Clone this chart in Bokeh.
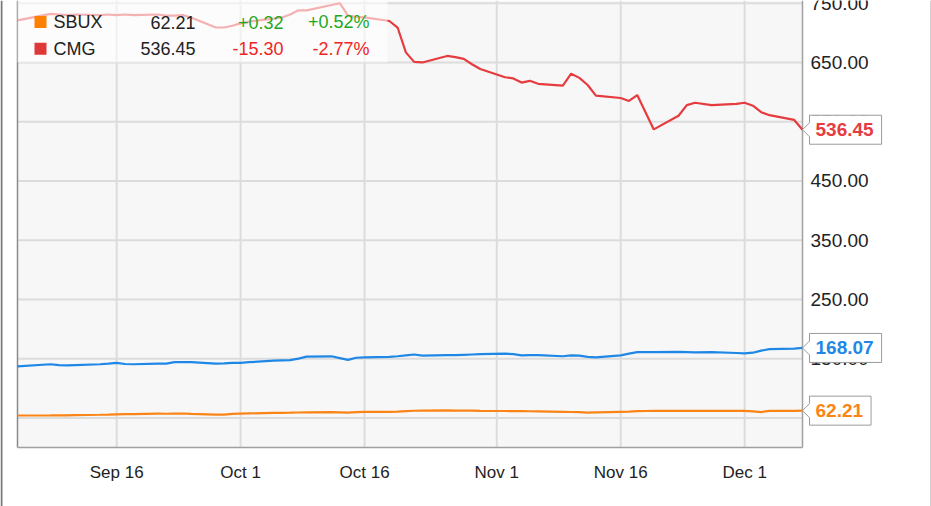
import pandas as pd
from bokeh.plotting import figure
from bokeh.models import Range1d, ColumnDataSource
from bokeh.core.properties import value
from bokeh.embed import file_html
from bokeh.resources import INLINE

# ---------------- data ----------------
dates = [
    "2015-09-04", "2015-09-08", "2015-09-09", "2015-09-10", "2015-09-11", "2015-09-14",
    "2015-09-15", "2015-09-16", "2015-09-17", "2015-09-18", "2015-09-21", "2015-09-22",
    "2015-09-23", "2015-09-24", "2015-09-25", "2015-09-28", "2015-09-29", "2015-09-30",
    "2015-10-01", "2015-10-02", "2015-10-05", "2015-10-06", "2015-10-07", "2015-10-08",
    "2015-10-09", "2015-10-12", "2015-10-13", "2015-10-14", "2015-10-15", "2015-10-16",
    "2015-10-19", "2015-10-20", "2015-10-21", "2015-10-22", "2015-10-23", "2015-10-26",
    "2015-10-27", "2015-10-28", "2015-10-29", "2015-10-30", "2015-11-02", "2015-11-03",
    "2015-11-04", "2015-11-05", "2015-11-06", "2015-11-09", "2015-11-10", "2015-11-11",
    "2015-11-12", "2015-11-13", "2015-11-16", "2015-11-17", "2015-11-18", "2015-11-19",
    "2015-11-20", "2015-11-23", "2015-11-24", "2015-11-25", "2015-11-27", "2015-11-30",
    "2015-12-01", "2015-12-02", "2015-12-03", "2015-12-04", "2015-12-07", "2015-12-08",
]

cmg = [
    721, 732, 731, 730, 731, 730, 731, 730, 731, 730, 731, 729, 729, 730, 726, 709, 709, 712,
    716, 719, 724, 726, 731, 738, 738, 747, 750, 729, 727, 726, 720, 709, 667, 651, 650, 661,
    659, 656, 647, 639, 625, 623, 616, 619, 614, 611, 631, 624, 612, 594, 590, 585, 595, 566,
    537, 560, 578, 582, 578, 580, 582, 577, 566, 561, 553, 536.45,
]

blue_series = [
    137, 140.5, 139, 138.5, 139, 140.5, 141.5, 143, 141, 140.5, 141.5, 141.5, 144, 144, 144,
    141.5, 142, 143, 143, 144, 146.5, 147, 147.5, 150, 153.5, 154, 151, 148, 151.5, 152, 153,
    154, 155.5, 157, 155, 156, 156, 156.5, 157, 157.5, 158.5, 157.5, 155.5, 156, 156, 154,
    155.5, 155, 153, 152, 155.5, 158.5, 161, 161, 161, 161.5, 161, 160.5, 161, 159.5, 159,
    160, 163.5, 166, 167, 168.07,
]

sbux = [
    54.0, 54.2, 54.3, 54.2, 54.5, 55.3, 55.6, 56.0, 56.3, 56.5, 57.2, 57.0, 57.3, 57.4, 56.8,
    55.4, 55.6, 56.8, 57.2, 57.6, 58.4, 58.6, 58.8, 59.1, 59.4, 59.8, 59.3, 58.8, 59.6, 60.0,
    60.1, 60.6, 61.3, 62.0, 62.4, 62.6, 62.3, 62.5, 62.2, 61.8, 61.6, 61.3, 61.4, 61.2, 61.0,
    60.3, 59.9, 59.6, 58.9, 59.2, 60.2, 60.4, 61.4, 61.6, 61.9, 62.0, 61.7, 61.9, 62.0, 61.7,
    61.9, 60.9, 59.8, 61.7, 61.9, 62.21,
]

y_ticks = [50, 150, 250, 350, 450, 550, 650, 750]
x_tick_dates = ["2015-09-16", "2015-10-01", "2015-10-16", "2015-11-01", "2015-11-16", "2015-12-01"]
x_tick_labels = ["Sep 16", "Oct 1", "Oct 16", "Nov 1", "Nov 16", "Dec 1"]

legend_names = ["SBUX", "CMG"]
legend_prices = ["62.21", "536.45"]
legend_changes = ["+0.32", "-15.30"]
legend_pcts = ["+0.52%", "-2.77%"]

# ---------------- style / layout ----------------
FONT = value("Liberation Sans")
RED = "#e63b3f"
BLUE = "#1f88e6"
ORANGE = "#fb8417"
GREEN = "#1fa81f"
NEG = "#f02424"
legend_colors = ["#ff7f00", "#e03838"]
change_colors = [GREEN, NEG]

W, H = 931, 506
PL, PR, PB = 17, 802, 447          # plot area left / right / bottom (px)
Y_TOP = 754.6                      # value at the top edge of the picture

dts = pd.to_datetime(dates)
ms0 = dts[0].value / 1e6
ms1 = dts[-1].value / 1e6
mspp = (ms1 - ms0) / (PR - PL)     # ms per pixel
upp = Y_TOP / PB                   # value units per pixel


def X(px):
    return ms0 + (px - PL) * mspp


def Y(py):
    return Y_TOP - py * upp


p = figure(width=W, height=H, x_axis_type="datetime",
           x_range=Range1d(X(0), X(W)), y_range=Range1d(Y(H), Y(0)),
           output_backend="svg", toolbar_location=None,
           min_border=0, background_fill_color="white", border_fill_color="white",
           outline_line_color=None)
p.xaxis.visible = False
p.yaxis.visible = False
p.xgrid.visible = False
p.ygrid.visible = False

# plot area background
p.quad(left=[ms0], right=[ms1], bottom=[0], top=[Y_TOP], fill_color="#f7f7f7", line_color=None)

# grid lines
x_tick_ms = [pd.Timestamp(d).value / 1e6 for d in x_tick_dates]
p.segment(x0=x_tick_ms, x1=x_tick_ms, y0=[0] * len(x_tick_ms), y1=[Y_TOP] * len(x_tick_ms),
          line_color="#dcdcdc", line_width=2)
p.segment(x0=[ms0] * len(y_ticks), x1=[ms1] * len(y_ticks), y0=y_ticks, y1=y_ticks,
          line_color="#dcdcdc", line_width=2)

# plot-area borders
p.segment(x0=[ms0, ms0, ms1], x1=[ms0, ms1, ms1], y0=[0, 0, 0], y1=[Y_TOP, 0, Y_TOP],
          line_color=["#8a8a8a", "#a0a0a0", "#a0a0a0"], line_width=1.5)

# outer picture borders
p.segment(x0=[X(1), X(930.5)], x1=[X(1), X(930.5)], y0=[Y(H), Y(H)], y1=[Y(0), Y(0)],
          line_color=["#7a7a7a", "#a0a0a0"], line_width=[2, 1])

# series lines
src = ColumnDataSource(dict(x=dts, cmg=cmg, blue=blue_series, sbux=sbux))
p.line("x", "blue", source=src, line_color=BLUE, line_width=2.2)
p.line("x", "sbux", source=src, line_color=ORANGE, line_width=2.2)
p.line("x", "cmg", source=src, line_color=RED, line_width=2.2)

# axis tick labels
p.text(x=[ms1] * len(y_ticks), y=y_ticks, text=[f"{t:.2f}" for t in y_ticks], x_offset=8,
       text_align="left", text_baseline="middle", text_font=FONT, text_font_size="19px",
       text_color="#222222")
p.text(x=x_tick_ms, y=[Y(471.5)] * len(x_tick_ms), text=x_tick_labels,
       text_align="center", text_baseline="middle", text_font=FONT, text_font_size="17px",
       text_color="#222222")

# legend panel
p.quad(left=[ms0], right=[X(387)], bottom=[Y(62)], top=[Y_TOP], fill_color="white",
       fill_alpha=0.6, line_color=None)
row_y = [Y(21.5), Y(48.3)]
p.quad(left=[X(34)] * 2, right=[X(46)] * 2, top=[Y(15.5), Y(42.3)], bottom=[Y(27.5), Y(54.3)],
       fill_color=legend_colors, line_color=None)
common = dict(text_baseline="middle", text_font=FONT, text_font_size="18px")
p.text(x=[X(53)] * 2, y=row_y, text=legend_names, text_align="left", text_color="#222222", **common)
p.text(x=[X(195)] * 2, y=row_y, text=legend_prices, text_align="right", text_color="#222222", **common)
p.text(x=[X(283)] * 2, y=row_y, text=legend_changes, text_align="right", text_color=change_colors, **common)
p.text(x=[X(369)] * 2, y=row_y, text=legend_pcts, text_align="right", text_color=change_colors, **common)

# last-value tags
for v, col in [(cmg[-1], RED), (blue_series[-1], BLUE), (sbux[-1], ORANGE)]:
    txt = f"{v:.2f}"
    w = 14 + 19 * (0.556 * (len(txt) - 1) + 0.278)
    shape = [(0, 0), (7, 7), (7, 14.5), (7 + w, 14.5), (7 + w, -14.5), (7, -14.5), (7, -7)]
    p.patch(x=[X(PR + dx) for dx, dy in shape], y=[v + dy * upp for dx, dy in shape],
            fill_color="white", line_color="#9a9a9a", line_width=1)
    p.text(x=[X(PR + 13)], y=[v], text=[txt], text_align="left", text_baseline="middle",
           text_font=FONT, text_font_size="19px", text_font_style="bold", text_color=col)

open("out.html", "w").write(file_html(p, INLINE))
